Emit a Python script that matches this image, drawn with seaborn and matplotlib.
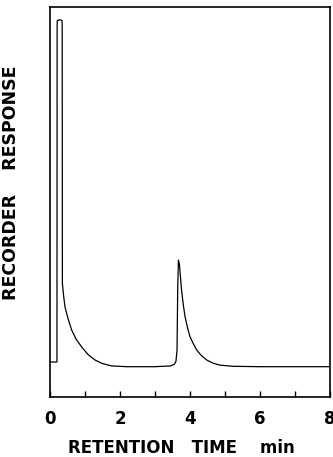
import matplotlib
matplotlib.use("Agg")
import matplotlib.pyplot as plt
import seaborn as sns
from matplotlib.ticker import MultipleLocator

# retention time (min) and recorder response
time = [0.0, 0.20, 0.205, 0.21, 0.28, 0.345, 0.35, 0.355, 0.39, 0.43, 0.52,
        0.62, 0.75, 0.91, 1.09, 1.29, 1.5, 1.76, 2.2, 3.0, 3.45, 3.55,
        3.60, 3.63, 3.65, 3.67, 3.70, 3.73, 3.76, 3.81, 3.86, 3.93, 4.0,
        4.1, 4.19, 4.32, 4.48, 4.66, 4.86, 5.23, 6.0, 8.0]
response = [9.0, 9.0, 95.0, 96.5, 96.7, 96.5, 95.0, 29.2, 26.0, 23.1, 20.0,
            17.2, 14.8, 12.8, 10.9, 9.5, 8.6, 8.0, 7.8, 7.8, 8.0, 8.4,
            9.2, 12.0, 28.0, 35.1, 34.0, 30.5, 27.4, 23.6, 20.6, 17.8, 15.5,
            13.6, 12.1, 10.7, 9.5, 8.7, 8.2, 7.9, 7.8, 7.8]

sns.set_style("ticks")
plt.rcParams["font.family"] = ["DejaVu Sans"]

fig = plt.figure(figsize=(3.33, 4.57), dpi=100)
ax = fig.add_axes([0.150, 0.131, 0.841, 0.854])

sns.lineplot(x=time, y=response, estimator=None, sort=False,
             color="black", linewidth=0.9, ax=ax)

ax.set_xlim(0, 8)
ax.set_ylim(0, 100)
ax.xaxis.set_major_locator(MultipleLocator(2))
ax.xaxis.set_minor_locator(MultipleLocator(1))
ax.tick_params(axis="x", which="both", direction="in", length=4,
               width=1.0, pad=9, labelsize=12, colors="black")
ax.set_yticks([])
for lab in ax.get_xticklabels():
    lab.set_fontweight("bold")
for s in ax.spines.values():
    s.set_visible(True)
    s.set_linewidth(1.2)
    s.set_color("black")

ax.set_xlabel("RETENTION   TIME    min", fontsize=12, fontweight="bold",
              color="black")
ax.xaxis.set_label_coords(0.47, -0.108)
ax.set_ylabel("RECORDER    RESPONSE", fontsize=12.5, fontweight="bold",
              color="black")
ax.yaxis.set_label_coords(-0.107, 0.55)

fig.savefig("out.png", dpi=100)
